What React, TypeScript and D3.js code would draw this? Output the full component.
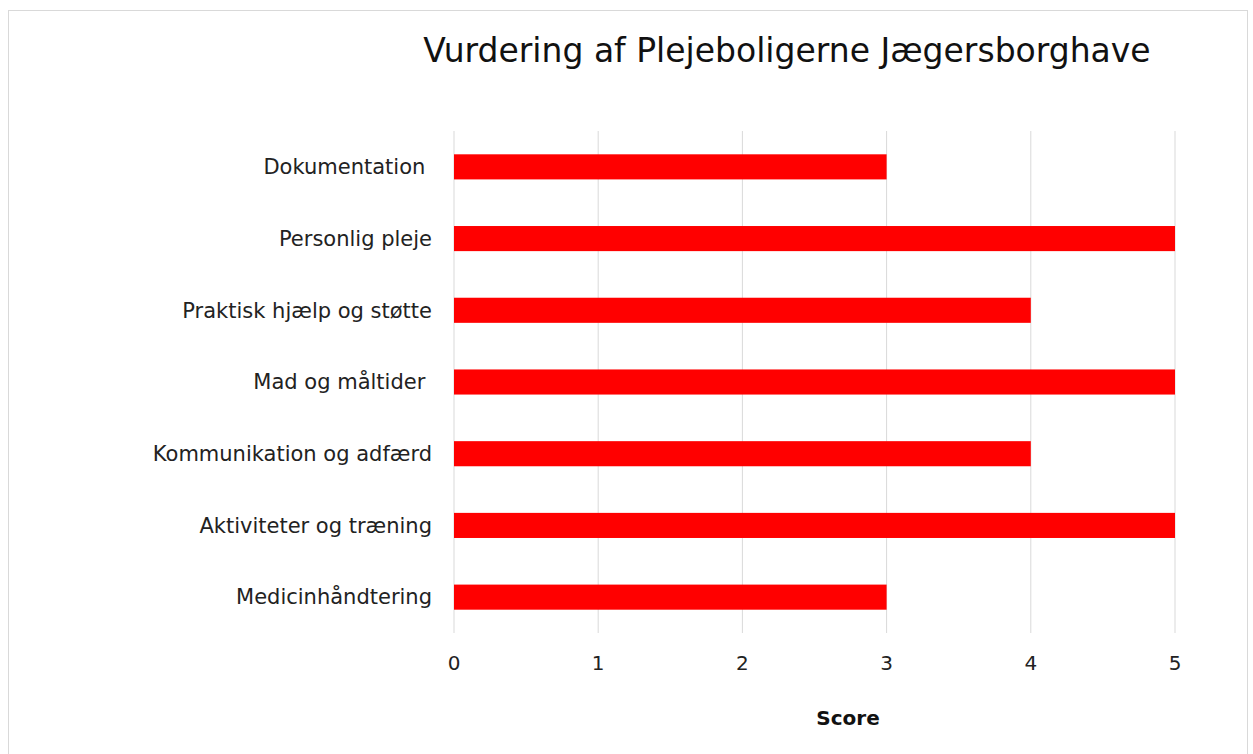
import React from "react";
import * as d3 from "d3";

const categories = [
  "Dokumentation ",
  "Personlig pleje",
  "Praktisk hjælp og støtte",
  "Mad og måltider ",
  "Kommunikation og adfærd",
  "Aktiviteter og træning",
  "Medicinhåndtering",
];
const scores = [3, 5, 4, 5, 4, 5, 3];
const xTicks = [0, 1, 2, 3, 4, 5];

const title = "Vurdering af Plejeboligerne Jægersborghave";
const xTitle = "Score";

const W = 1253;
const H = 754;
const margin = { top: 131, right: 78, bottom: 121, left: 454 };
const font = "'DejaVu Sans', sans-serif";

export default function App() {
  const innerW = W - margin.left - margin.right;
  const innerH = H - margin.top - margin.bottom;

  const x = d3.scaleLinear().domain([0, 5]).range([0, innerW]);
  const y = d3.scaleBand().domain(categories).range([0, innerH]).paddingInner(0.65).paddingOuter(0.325);

  const data = categories.map((c, i) => ({ cat: c, val: scores[i] }));

  return (
    <svg
      width={W}
      height={H}
      style={{ position: "absolute", left: 0, top: 0, background: "#fff" }}
    >
      <rect x={8.5} y={10.5} width={1239} height={760} fill="#fff" stroke="#d9d9d9" />
      <text x={787} y={62} textAnchor="middle" fontFamily={font} fontSize={33} fill="#111">
        {title}
      </text>
      <g transform={`translate(${margin.left},${margin.top})`}>
        {xTicks.map((t) => (
          <line key={t} x1={x(t)} x2={x(t)} y1={0} y2={innerH} stroke="#d9d9d9" strokeWidth={1} />
        ))}
        {data.map((d) => (
          <rect
            key={d.cat}
            x={x(0)}
            y={y(d.cat)}
            width={x(d.val) - x(0)}
            height={y.bandwidth()}
            fill="#ff0000"
          />
        ))}
        {data.map((d) => (
          <text
            key={d.cat}
            x={-22}
            y={(y(d.cat) ?? 0) + y.bandwidth() / 2}
            dy="0.35em"
            textAnchor="end"
            fontFamily={font}
            fontSize={21}
            fill="#222"
            style={{ whiteSpace: "pre" }}
          >
            {d.cat}
          </text>
        ))}
        {xTicks.map((t) => (
          <text
            key={t}
            x={x(t)}
            y={innerH + 30}
            dy="0.35em"
            textAnchor="middle"
            fontFamily={font}
            fontSize={20}
            fill="#222"
          >
            {t}
          </text>
        ))}
      </g>
      <text
        x={848}
        y={718}
        dy="0.35em"
        textAnchor="middle"
        fontFamily={font}
        fontSize={20}
        fontWeight="bold"
        fill="#111"
      >
        {xTitle}
      </text>
    </svg>
  );
}
